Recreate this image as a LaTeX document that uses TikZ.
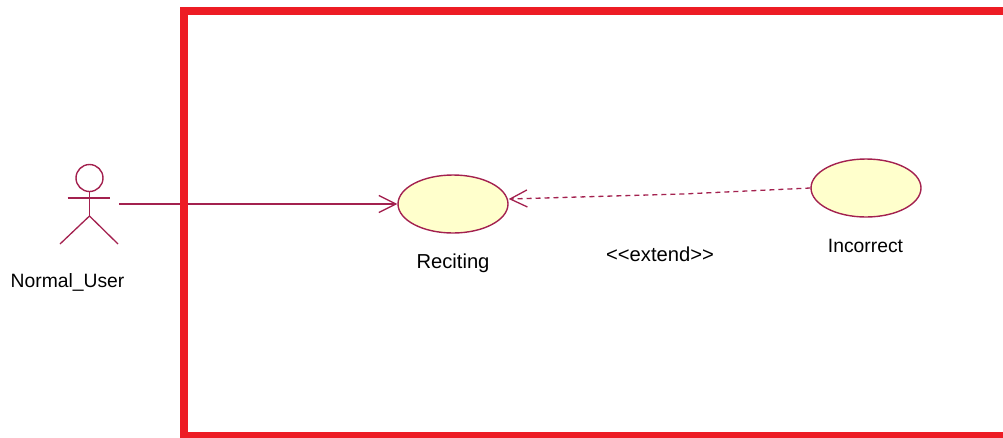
\documentclass[tikz,border=0pt]{standalone}
\usepackage{fontspec}
\setmainfont{Liberation Sans}
\usetikzlibrary{arrows, arrows.meta, shapes.geometric}
\definecolor{umlline}{HTML}{A3214F}
\definecolor{umlfill}{HTML}{FFFFCC}
\definecolor{framered}{HTML}{ED1C24}
\tikzset{
    usecase/.style={ellipse, draw=umlline, fill=umlfill, line width=1.4pt, minimum width=110pt, minimum height=58pt, inner sep=0pt},
    umltext/.style={anchor=base, inner sep=0pt, font=\fontsize{19.3}{19.3}\selectfont},
    umltextbig/.style={umltext, font=\fontsize{20.2}{20.2}\selectfont},
    umlarrow/.style={umlline, line width=1.3pt, -{Straight Barb[length=17pt, width=17pt, line width=1.3pt]}},
}

\begin{document}
\begin{tikzpicture}[x=1pt, y=-1pt]
\useasboundingbox (0,0) rectangle (1003,437);

\node[usecase] (Reciting) at (453,204) {};
\node[usecase] (Incorrect) at (866,188) {};
\node[umltextbig] (RecitingText) at (453,268) {Reciting};
\node[umltext] (IncorrectText) at (865.5,252) {Incorrect};
\node[umltextbig] (ExtendText) at (660,261) {{<}{<}extend{>}{>}};
\node[umltext] (UserText) at (67.5,287) {Normal\_User};

\node[circle, draw=umlline, line width=1.4pt, minimum size=27pt, inner sep=0pt] (UserHead) at (89.5,178) {};
\coordinate (UserHip) at (89.5,216);
\coordinate (UserArmL) at (67.5,198);
\coordinate (UserArmR) at (110,198);
\coordinate (UserFootL) at (60,244);
\coordinate (UserFootR) at (118,244);
\coordinate (UserHand) at (119,204);
\coordinate (ExtendBend) at (683,194);

\draw [umlline, line width=1.3pt] (UserHead.south) -- (UserHip);
\draw [umlline, line width=1.3pt] (UserArmL) -- (UserArmR);
\draw [umlline, line width=1.3pt] (UserFootL) -- (UserHip) -- (UserFootR);

\draw [umlarrow] (UserHand) -- (Reciting.west);
\draw [umlarrow, dash pattern=on 5pt off 4pt] (Incorrect.west) -- (ExtendBend) -- (Reciting.east |- 0,199);

\begin{scope}
\clip (0,0) rectangle (1003,437);
\draw [framered, line width=8pt] (183.5,11) rectangle (1020,435.5);
\end{scope}

\end{tikzpicture}
\end{document}
